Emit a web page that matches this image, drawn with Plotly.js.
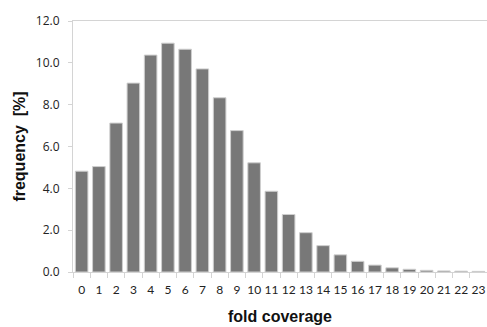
<!DOCTYPE html>
<html>
<head>
<meta charset="utf-8">
<script src="https://cdn.plot.ly/plotly-3.0.1.min.js"></script>
<style>html,body{margin:0;padding:0;background:#fff;}#chart{width:487px;height:327px;}</style>
</head>
<body>
<div id="chart"></div>
<script>
const categories = ["0","1","2","3","4","5","6","7","8","9","10","11","12","13","14","15","16","17","18","19","20","21","22","23"];
const frequency = [4.82, 5.04, 7.12, 9.03, 10.37, 10.94, 10.65, 9.71, 8.33, 6.76, 5.22, 3.86, 2.75, 1.88, 1.26, 0.82, 0.51, 0.33, 0.2, 0.13, 0.08, 0.05, 0.04, 0.03];
const yTickVals = [0, 2, 4, 6, 8, 10, 12];

const trace = {
  type: 'bar',
  x: categories,
  y: frequency,
  marker: {color: '#787878', line: {color: '#cfcfcf', width: 1}},
  hoverinfo: 'skip'
};

const layout = {
  width: 487,
  height: 327,
  margin: {l: 73, r: 0, t: 21, b: 55},
  paper_bgcolor: '#ffffff',
  plot_bgcolor: '#ffffff',
  bargap: 0.27,
  showlegend: false,
  font: {family: 'Open Sans, Liberation Sans, sans-serif', color: '#222', size: 12},
  xaxis: {
    type: 'category',
    tickson: 'boundaries',
    tickangle: 0,
    ticks: 'outside',
    ticklen: 5,
    tickcolor: '#d4d4d4',
    ticklabelstandoff: 7,
    showline: true,
    linecolor: '#d4d4d4',
    linewidth: 1,
    mirror: true,
    showgrid: false,
    tickfont: {size: 12, family: 'Lato, Open Sans, sans-serif', color: '#222'},
    title: {text: 'fold coverage', font: {family: 'Liberation Sans, Arial, sans-serif', size: 16, color: '#111', weight: 'bold'}, standoff: 14}
  },
  yaxis: {
    range: [0, 12],
    tickvals: yTickVals,
    tickformat: '.1f',
    ticks: 'outside',
    ticklen: 4,
    tickcolor: '#d4d4d4',
    ticklabelstandoff: 6,
    showline: true,
    linecolor: '#d4d4d4',
    linewidth: 1,
    showgrid: false,
    zeroline: false,
    tickfont: {size: 12, family: 'Open Sans, sans-serif', color: '#222'},
    title: {text: 'frequency  [%]', font: {family: 'Liberation Sans, Arial, sans-serif', size: 16, color: '#111', weight: 'bold'}, standoff: 6}
  }
};

Plotly.newPlot('chart', [trace], layout, {displayModeBar: false, staticPlot: true});
</script>
</body>
</html>
